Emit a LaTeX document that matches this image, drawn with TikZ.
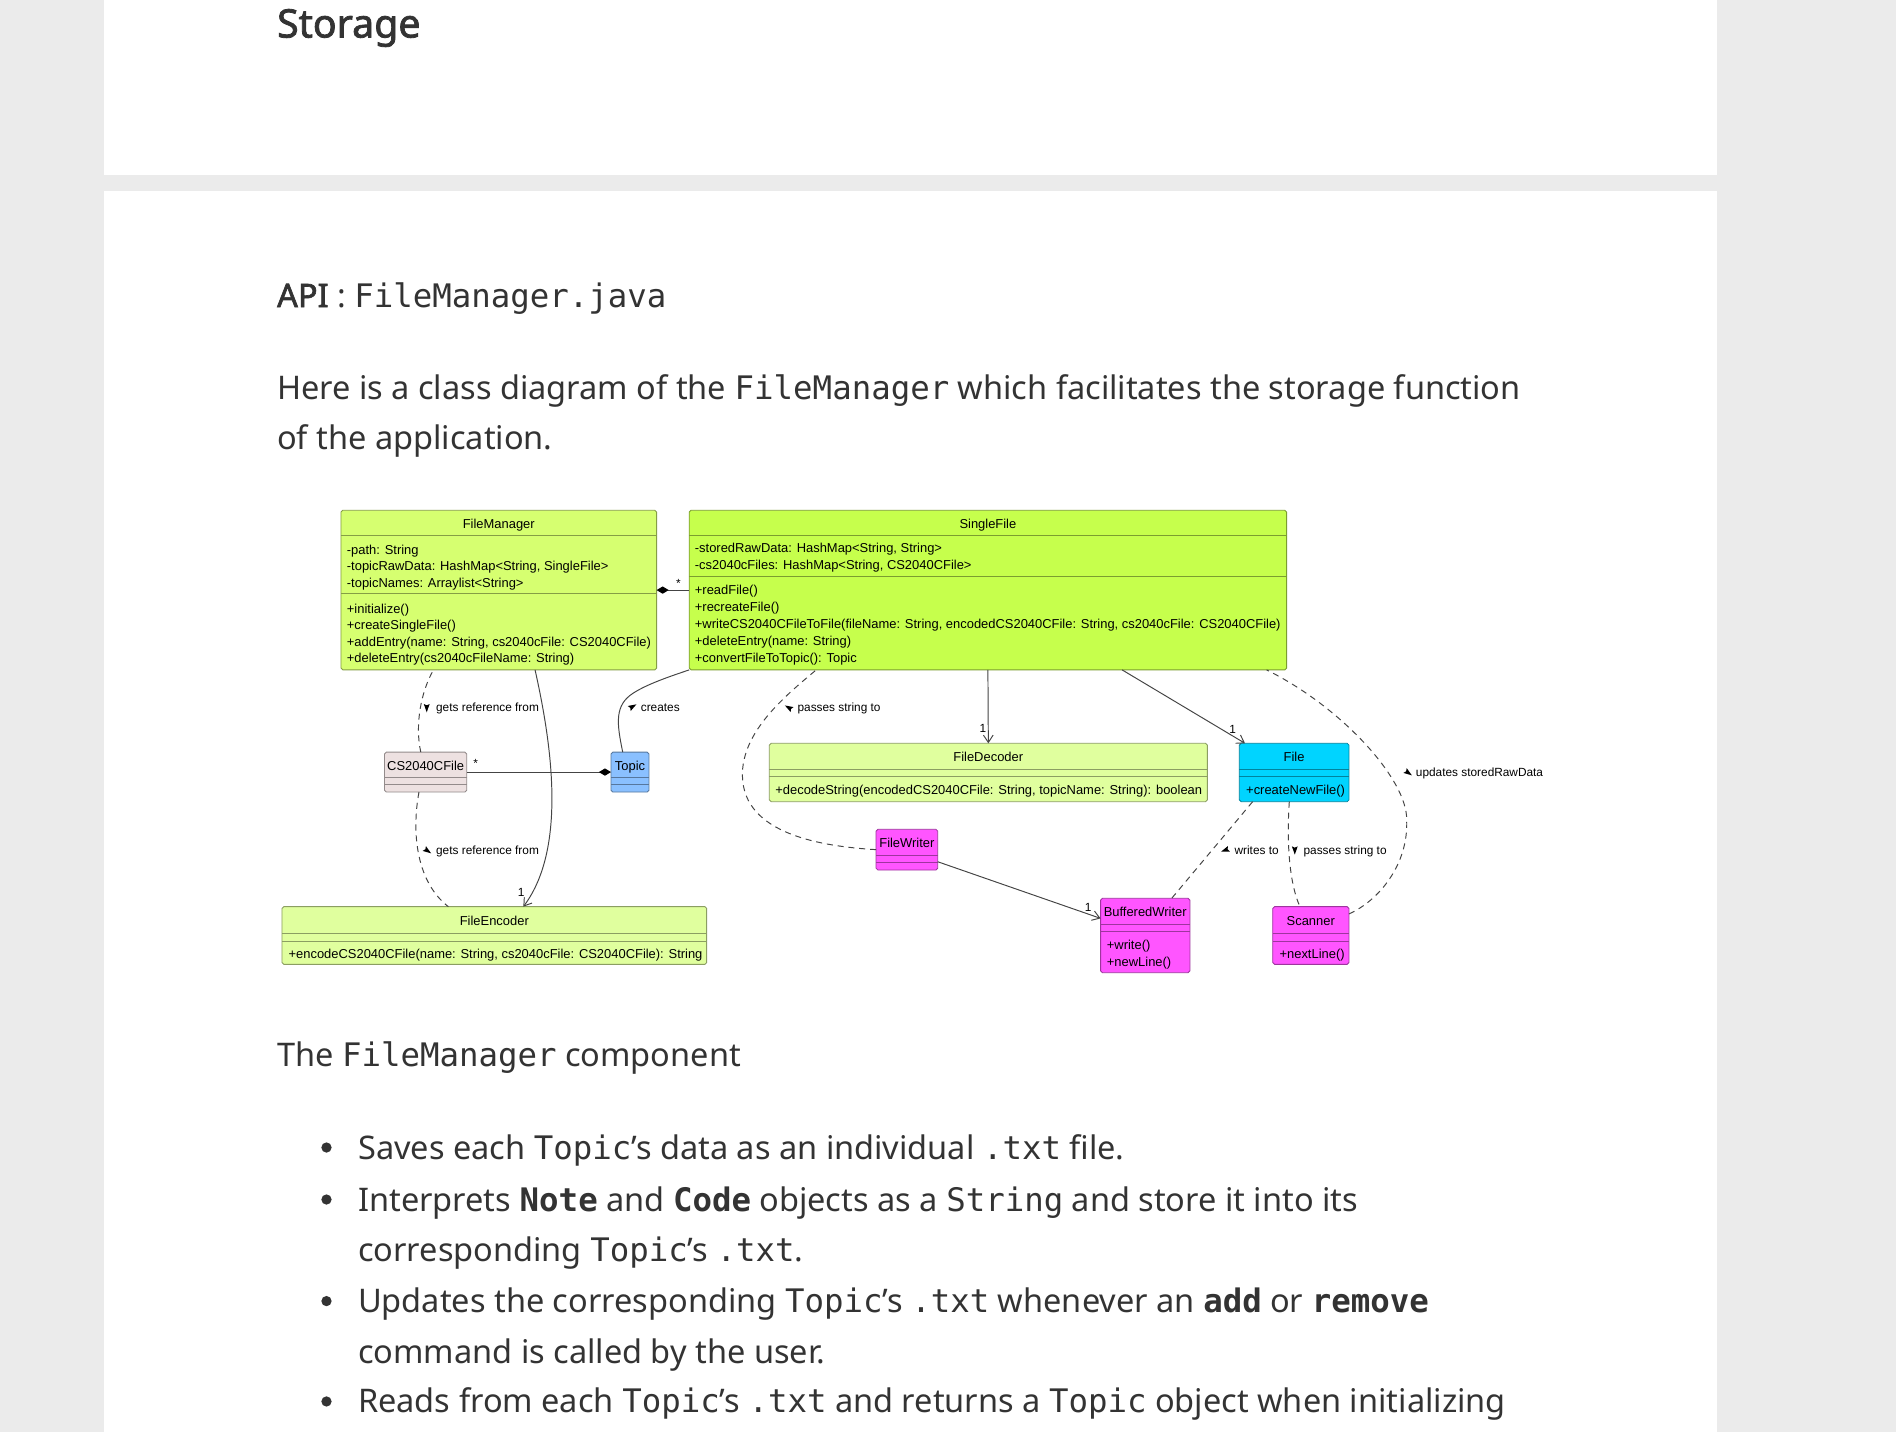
\documentclass[tikz,border=0pt]{standalone}
\usepackage{fontspec}
\setmainfont{Noto Sans}
\newfontfamily\boldbody{Noto Sans}[FakeBold=2]
\newfontfamily\codefont{DejaVu Sans Mono}
\newfontfamily\umlfont{Liberation Sans}
\usetikzlibrary{arrows.meta,calc}
\definecolor{pagebg}{HTML}{EBEBEB}
\definecolor{txt}{HTML}{333333}
\definecolor{fmfill}{HTML}{D6FF70}
\definecolor{sffill}{HTML}{C6FF4C}
\definecolor{edfill}{HTML}{E0FF9E}
\definecolor{csfill}{HTML}{EDE1E1}
\definecolor{tpfill}{HTML}{8AC0FF}
\definecolor{flfill}{HTML}{00D4FF}
\definecolor{mgfill}{HTML}{FF55FF}
\definecolor{lncol}{HTML}{444444}
\newcommand\umlsize{\fontsize{10.7}{13}\selectfont}
\newcommand\lblsize{\fontsize{9.8}{12}\selectfont}
\newcommand\bodysize{\fontsize{26.9}{32}\selectfont}
\newcommand\mycode[1]{{\codefont\fontsize{26.8}{32}\selectfont #1}}
\newcommand\mybcode[1]{{\codefont\bfseries\fontsize{26.8}{32}\selectfont #1}}
% direction marker: centre (#1,#2), visual angle #3 (counter-clockwise)
\newcommand\dirtri[3]{\fill[black] ($(#1,#2)+(-#3:3.8)$) -- ($(#1,#2)+({-#3+180-38}:3.9)$) -- ($(#1,#2)+({-#3+180}:2.0)$) -- ($(#1,#2)+({-#3+180+38}:3.9)$) -- cycle;}
\newcommand\hsep[3]{\draw[sepline,draw=#3] ([yshift=-#2pt]#1.north west) -- ([yshift=-#2pt]#1.north east);}
\begin{document}
\begin{tikzpicture}[x=1pt,y=-1pt,
  classbox/.style={draw, rounded corners=1.5pt, line width=0.7pt, inner sep=0pt, outer sep=0pt, anchor=north west},
  sepline/.style={line width=0.7pt},
  umltitle/.style={font=\umlfont\umlsize, inner sep=0pt, anchor=base, text=black},
  member/.style={font=\umlfont\umlsize, inner sep=0pt, anchor=base west, text=black},
  lbl/.style={font=\umlfont\lblsize, inner sep=0pt, anchor=base west, text=black},
  mult/.style={font=\umlfont\lblsize, inner sep=0pt, anchor=base, text=black},
  conn/.style={draw=lncol, line width=0.8pt},
  dep/.style={conn, dash pattern=on 5pt off 4pt},
  arr/.style={-{Straight Barb[length=6pt,width=8pt,line width=0.8pt]}},
  prose/.style={anchor=base west, inner sep=0pt, text=txt, font=\bodysize},
  dot/.style={circle, fill=txt, inner sep=0pt, minimum size=8.5pt}
]
\useasboundingbox (0,0) rectangle (1568,1184);
% page
\fill[pagebg] (0,0) rectangle (1568,1184);
\fill[white] (86,0) rectangle (1420,145);
\fill[white] (86,158) rectangle (1420,1184);

% prose
\node[anchor=base west, inner sep=0pt, text=txt, font=\boldbody\fontsize{32.5}{36}\selectfont] (tStorage) at (229,31) {Storage};
\node[prose] (tAPI) at (229,254) {{\boldbody API} : \mycode{FileManager.java}};
\node[prose] (tHere1) at (229,330) {Here is a class diagram of the \mycode{FileManager} which facilitates the storage function};
\node[prose] (tHere2) at (229,372) {of the application.};
\node[prose] (tComp) at (229,882) {The \mycode{FileManager} component};
\node[dot] (d1) at (270,949) {};
\node[dot] (d2) at (270,992) {};
\node[dot] (d3) at (270,1076) {};
\node[dot] (d4) at (270,1159) {};
\node[prose] (b1) at (296,958.5) {Saves each \mycode{Topic}’s data as an individual \mycode{.txt} file.};
\node[prose] (b2) at (296,1001.5) {Interprets \mybcode{Note} and \mybcode{Code} objects as a \mycode{String} and store it into its};
\node[prose] (b2b) at (296,1043.5) {corresponding \mycode{Topic}’s \mycode{.txt}.};
\node[prose] (b3) at (296,1085.5) {Updates the corresponding \mycode{Topic}’s \mycode{.txt} whenever an \mybcode{add} or \mybcode{remove}};
\node[prose] (b3b) at (296,1127.5) {command is called by the user.};
\node[prose] (b4) at (296,1168.5) {Reads from each \mycode{Topic}’s \mycode{.txt} and returns a \mycode{Topic} object when initializing};

% ---------- classes ----------
% FileManager
\node[classbox, draw=fmfill!62!black, fill=fmfill, minimum width=261pt, minimum height=132pt] (FM) at (282,422) {};
\hsep{FM}{21}{fmfill!62!black}
\hsep{FM}{69}{fmfill!62!black}
\node[umltitle] (FMt) at (412.5,437.3) {FileManager};
\foreach \t [count=\i from 0] in {{-path: String},{{-topicRawData: HashMap<String, SingleFile>}},{-topicNames: Arraylist<String>}}
  \node[member] (FMa\i) at ({286.7},{458.3+13.8*\i}) {\t};
\foreach \t [count=\i from 0] in {{+initialize()},{+createSingleFile()},{{+addEntry(name: String, cs2040cFile: CS2040CFile)}},{+deleteEntry(cs2040cFileName: String)}}
  \node[member] (FMm\i) at ({286.7},{507+13.7*\i}) {\t};

% SingleFile
\node[classbox, draw=sffill!62!black, fill=sffill, minimum width=494pt, minimum height=132pt] (SF) at (570,422) {};
\hsep{SF}{21}{sffill!62!black}
\hsep{SF}{55}{sffill!62!black}
\node[umltitle] (SFt) at (817,437.3) {SingleFile};
\foreach \t [count=\i from 0] in {{{-storedRawData: HashMap<String, String>}},{{-cs2040cFiles: HashMap<String, CS2040CFile>}}}
  \node[member] (SFa\i) at ({574.5},{457+14*\i}) {\t};
\foreach \t [count=\i from 0] in {{+readFile()},{+recreateFile()},{{+writeCS2040CFileToFile(fileName: String, encodedCS2040CFile: String, cs2040cFile: CS2040CFile)}},{+deleteEntry(name: String)},{+convertFileToTopic(): Topic}}
  \node[member] (SFm\i) at ({574.5},{492+14*\i}) {\t};

% CS2040CFile
\node[classbox, draw=csfill!62!black, fill=csfill, minimum width=68pt, minimum height=33pt] (CS) at (318,622) {};
\hsep{CS}{21}{csfill!62!black}
\hsep{CS}{27}{csfill!62!black}
\node[umltitle] (CSt) at (352,636.9) {CS2040CFile};

% Topic
\node[classbox, draw=tpfill!62!black, fill=tpfill, minimum width=31.4pt, minimum height=33pt] (TP) at (505.3,622) {};
\hsep{TP}{21}{tpfill!62!black}
\hsep{TP}{27}{tpfill!62!black}
\node[umltitle] (TPt) at (521,636.9) {Topic};

% FileEncoder
\node[classbox, draw=edfill!62!black, fill=edfill, minimum width=351.2pt, minimum height=47.7pt] (FE) at (233.2,749.8) {};
\hsep{FE}{22.1}{edfill!62!black}
\hsep{FE}{28.4}{edfill!62!black}
\node[umltitle] (FEt) at (408.8,765.6) {FileEncoder};
\node[member] (FEm0) at (238.5,792.3) {+encodeCS2040CFile(name: String, cs2040cFile: CS2040CFile): String};

% FileDecoder
\node[classbox, draw=edfill!62!black, fill=edfill, minimum width=362.3pt, minimum height=48.3pt] (FD) at (636.2,614.7) {};
\hsep{FD}{21.5}{edfill!62!black}
\hsep{FD}{27.6}{edfill!62!black}
\node[umltitle] (FDt) at (817.3,629.9) {FileDecoder};
\node[member] (FDm0) at (641,657.2) {+decodeString(encodedCS2040CFile: String, topicName: String): boolean};

% File
\node[classbox, draw=flfill!62!black, fill=flfill, minimum width=90.7pt, minimum height=48.3pt] (FL) at (1024.9,614.7) {};
\hsep{FL}{21.5}{flfill!62!black}
\hsep{FL}{27.6}{flfill!62!black}
\node[umltitle] (FLt) at (1070.2,629.9) {File};
\node[member] (FLm0) at (1030.4,657.2) {+createNewFile()};

% FileWriter
\node[classbox, draw=mgfill!62!black, fill=mgfill, minimum width=51pt, minimum height=33.7pt] (FW) at (724.5,685.8) {};
\hsep{FW}{21.3}{mgfill!62!black}
\hsep{FW}{27.4}{mgfill!62!black}
\node[umltitle] (FWt) at (750,700.8) {FileWriter};

% BufferedWriter
\node[classbox, draw=mgfill!62!black, fill=mgfill, minimum width=73.9pt, minimum height=61.5pt] (BW) at (910.2,742.9) {};
\hsep{BW}{21.5}{mgfill!62!black}
\hsep{BW}{27.6}{mgfill!62!black}
\node[umltitle] (BWt) at (947.1,757.9) {BufferedWriter};
\node[member] (BWm0) at (915.2,785.4) {+write()};
\node[member] (BWm1) at (915.2,799.2) {+newLine()};

% Scanner
\node[classbox, draw=mgfill!62!black, fill=mgfill, minimum width=63.1pt, minimum height=47.7pt] (SC) at (1052.5,749.8) {};
\hsep{SC}{22.1}{mgfill!62!black}
\hsep{SC}{28.4}{mgfill!62!black}
\node[umltitle] (SCt) at (1084,765.6) {Scanner};
\node[member] (SCm0) at (1058,792.3) {+nextLine()};

% ---------- connectors ----------
% FileManager *-- SingleFile
\draw[conn, {Diamond[length=10pt,width=6pt,color=black]}-] (FM.east) -- (SF.west);
\node[mult] (m1) at (561,485.7) {*};
% Topic *-- CS2040CFile
\draw[conn, -{Diamond[length=10pt,width=6pt,color=black]}] (CS.east) -- (TP.west);
\node[mult] (m2) at (393.4,635.1) {*};
% FileManager --> FileEncoder
\draw[conn, arr] ([xshift=30pt]FM.south) .. controls (455,610) and (470,700) .. ([xshift=24pt]FE.north);
\node[mult] (m3) at (431,741.2) {1};
% CS2040CFile .. FileManager
\draw[dep] ([xshift=-4pt]CS.north) .. controls (343,600) and (348,572) .. ([xshift=-54pt]FM.south);
\dirtri{352.9}{585.3}{-90}
\node[lbl] (L1) at (360.5,588.8) {gets reference from};
% CS2040CFile .. FileEncoder
\draw[dep] ([xshift=-5.5pt]CS.south) .. controls (340,690) and (345,730) .. ([xshift=-38pt]FE.north);
\dirtri{353.4}{703.5}{-35}
\node[lbl] (L2) at (360.5,707) {gets reference from};
% Topic -- SingleFile : creates
\draw[conn] ([xshift=-6pt]TP.north) .. controls (510,598) and (508,583) .. (524,573) .. controls (535,566) and (552,560) .. (SF.south west);
\dirtri{523}{584.4}{30}
\node[lbl] (L3) at (529.8,588) {creates};
% FileWriter .. SingleFile : passes string to
\draw[dep] (FW.west) .. controls (680,700) and (615,690) .. (614,642) .. controls (613,605) and (650,575) .. ([xshift=105pt]SF.south west);
\dirtri{652.4}{585.3}{150}
\node[lbl] (L4) at (659.4,588.8) {passes string to};
% SingleFile --> FileDecoder
\draw[conn, arr] (SF.south) -- (FD.north);
\node[mult] (m4) at (812.8,605.8) {1};
% SingleFile --> File
\draw[conn, arr] ([xshift=111pt]SF.south) -- ([xshift=4.7pt]FL.north west);
\node[mult] (m5) at (1019.4,606.4) {1};
% FileWriter --> BufferedWriter
\draw[conn, arr] ([yshift=-10pt]FW.east) -- ([yshift=-16.6pt]BW.north west);
\node[mult] (m6) at (900,753.9) {1};
% File .. BufferedWriter : writes to
\draw[dep] ([xshift=11pt]FL.south west) -- ([xshift=58.8pt]BW.north west);
\dirtri{1013.4}{703}{200}
\node[lbl] (L5) at (1020.8,706.5) {writes to};
% File .. Scanner : passes string to
\draw[dep] ([xshift=-4pt]FL.south) .. controls (1064,695) and (1066,730) .. ([xshift=-9pt]SC.north);
\dirtri{1070.8}{703}{-90}
\node[lbl] (L6) at (1077.9,706.5) {passes string to};
% Scanner .. SingleFile : updates storedRawData
\draw[dep] ([yshift=-6pt]SC.north east) .. controls (1140,745) and (1165,715) .. (1163.3,678) .. controls (1164,645) and (1110,585) .. ([xshift=-16.5pt]SF.south east);
\dirtri{1164.5}{639}{-35}
\node[lbl] (L7) at (1170.8,642.5) {updates storedRawData};
\end{tikzpicture}
\end{document}
